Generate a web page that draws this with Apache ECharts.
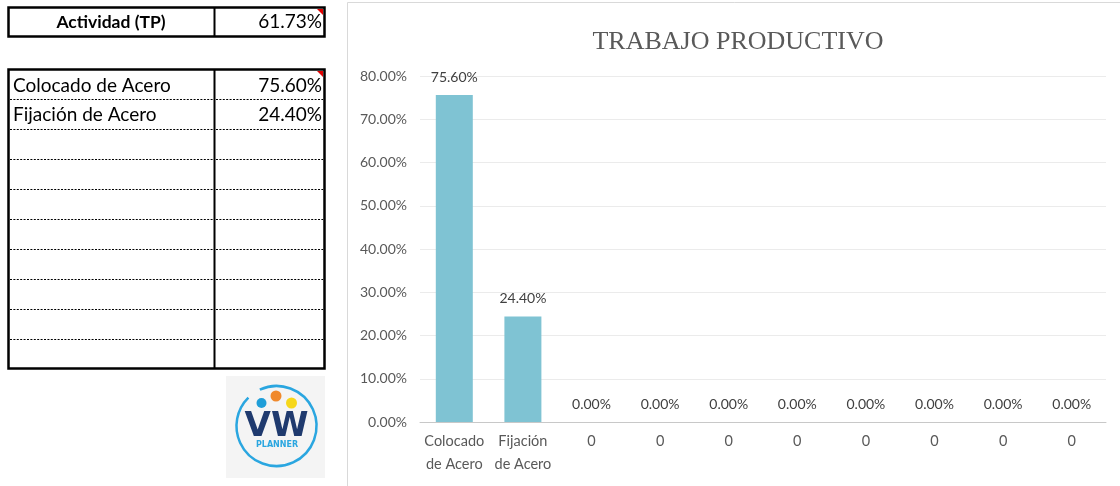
<!DOCTYPE html>
<html>
<head>
<meta charset="utf-8">
<script src="https://cdn.jsdelivr.net/npm/echarts@6/dist/echarts.min.js"></script>
<style>
html,body{margin:0;padding:0;background:#fff;}
#main{width:1120px;height:486px;}
</style>
</head>
<body>
<div id="main"></div>
<script>
const chartTitle = 'TRABAJO PRODUCTIVO';
const categories = ['Colocado de Acero', 'Fijación de Acero', '0', '0', '0', '0', '0', '0', '0', '0'];
const values = [75.60, 24.40, 0, 0, 0, 0, 0, 0, 0, 0];
const summaryLabel = 'Actividad (TP)';
const summaryValue = '61.73%';
const tableLabels = ['Colocado de Acero', 'Fijación de Acero', '', '', '', '', '', '', '', ''];
const tableValues = ['75.60%', '24.40%', '', '', '', '', '', '', '', ''];
const logoText = 'VW';
const logoSub = 'PLANNER';

const pct = v => v.toFixed(2) + '%';
const tableFont = 'Lato, "Open Sans", sans-serif';
const axisFont = 'Lato, "Open Sans", sans-serif';

const g = [];
// chart panel border
g.push({type:'rect', shape:{x:347.5, y:2.5, width:800, height:520}, style:{fill:'none', stroke:'#d9d9d9', lineWidth:1}, z:0});

// top summary box
g.push({type:'rect', shape:{x:8.5, y:7.5, width:316, height:29}, style:{fill:'#fff', stroke:'#000', lineWidth:2.5}, z:1});
g.push({type:'line', shape:{x1:214.5, y1:7.5, x2:214.5, y2:36.5}, style:{stroke:'#000', lineWidth:2}, z:2});
g.push({type:'text', style:{text:summaryLabel, x:111, y:22, align:'center', verticalAlign:'middle', font:'bold 17.5px ' + tableFont, fill:'#000'}, z:3});
g.push({type:'text', style:{text:summaryValue, x:322, y:22, align:'right', verticalAlign:'middle', font:'19px ' + tableFont, fill:'#000'}, z:3});
g.push({type:'polygon', shape:{points:[[317,9],[323,9],[323,15]]}, style:{fill:'#e00000'}, z:4});

// detail table
const t0 = 69.5, rowH = 29.9, nRows = tableLabels.length;
const tBottom = t0 + rowH * nRows;
for (let i = 1; i < nRows; i++) {
  const y = Math.round(t0 + rowH * i) + 0.5;
  g.push({type:'line', shape:{x1:10, y1:y, x2:213, y2:y}, style:{stroke:'#000', lineWidth:1, lineDash:[2,1.4]}, z:2});
  g.push({type:'line', shape:{x1:216, y1:y, x2:323, y2:y}, style:{stroke:'#000', lineWidth:1, lineDash:[2,1.4]}, z:2});
}
g.push({type:'rect', shape:{x:8.5, y:t0, width:316, height:tBottom - t0}, style:{fill:'none', stroke:'#000', lineWidth:2.5}, z:3});
g.push({type:'line', shape:{x1:214.5, y1:t0, x2:214.5, y2:tBottom}, style:{stroke:'#000', lineWidth:2}, z:3});
for (let i = 0; i < nRows; i++) {
  const cy = t0 + rowH * i + rowH / 2 + 1;
  if (tableLabels[i]) g.push({type:'text', style:{text:tableLabels[i], x:13, y:cy, align:'left', verticalAlign:'middle', font:'19px ' + tableFont, fill:'#000'}, z:4});
  if (tableValues[i]) g.push({type:'text', style:{text:tableValues[i], x:322, y:cy, align:'right', verticalAlign:'middle', font:'19px ' + tableFont, fill:'#000'}, z:4});
}
g.push({type:'polygon', shape:{points:[[317,71],[323,71],[323,77]]}, style:{fill:'#e00000'}, z:5});

// logo
g.push({type:'rect', shape:{x:226, y:376, width:99, height:102}, style:{fill:'#f4f4f4'}, z:1});
g.push({type:'arc', shape:{cx:276.5, cy:426, r:40, startAngle:-2.0, endAngle:-2.0 + Math.PI * 2 - 0.35}, style:{fill:'none', stroke:'#2aa6e0', lineWidth:2.5}, z:2});
g.push({type:'circle', shape:{cx:261.5, cy:403, r:5}, style:{fill:'#1f9ed8'}, z:2});
g.push({type:'circle', shape:{cx:276, cy:396, r:5.5}, style:{fill:'#f0892c'}, z:2});
g.push({type:'circle', shape:{cx:291.5, cy:403, r:5.5}, style:{fill:'#f6d71a'}, z:2});
g.push({type:'text', style:{text:logoText, x:276.5, y:427, align:'center', verticalAlign:'middle', font:'bold 34px "DejaVu Sans", sans-serif', fill:'#1f3a6e'}, z:3});
g.push({type:'text', style:{text:logoSub, x:277, y:445, align:'center', verticalAlign:'middle', font:'bold 8px "DejaVu Sans", sans-serif', fill:'#2aa6e0'}, z:3});

const chart = echarts.init(document.getElementById('main'), null, {renderer:'canvas'});
chart.setOption({
  animation:false,
  backgroundColor:'#fff',
  title:{
    text:chartTitle, left:733, top:37, textAlign:'center', textVerticalAlign:'middle',
    textStyle:{fontFamily:'"Liberation Serif", serif', fontSize:26, fontWeight:'normal', color:'#595959'}
  },
  grid:{left:420, right:14, top:76, bottom:64},
  xAxis:{
    type:'category', data:categories,
    axisLine:{lineStyle:{color:'#c8c8c8', width:1}},
    axisTick:{show:false},
    axisLabel:{
      interval:0, margin:8, color:'#595959', fontSize:14.5, lineHeight:23,
      fontFamily:axisFont,
      formatter:v => v.replace(' de ', '\nde ')
    }
  },
  yAxis:{
    type:'value', min:0, max:80, interval:10,
    axisLine:{show:false}, axisTick:{show:false},
    splitLine:{lineStyle:{color:'#ebebeb', width:1}},
    axisLabel:{margin:13, color:'#595959', fontSize:14, fontFamily:axisFont, formatter:v => pct(v)}
  },
  series:[{
    type:'bar', data:values, barWidth:37,
    itemStyle:{color:'#7fc3d3'},
    label:{show:true, position:'top', distance:11, color:'#404040', fontSize:14, fontFamily:axisFont, formatter:p => pct(p.value)}
  }],
  graphic:g
});
</script>
</body>
</html>
